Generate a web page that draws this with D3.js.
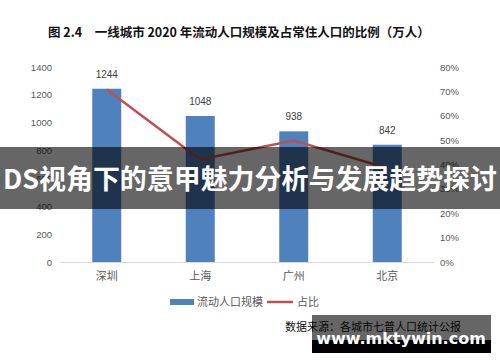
<!DOCTYPE html>
<html>
<head>
<meta charset="utf-8">
<script src="https://cdn.jsdelivr.net/npm/d3@7"></script>
<style>
  body { margin: 0; background: #fff; }
  svg { display: block; }
</style>
</head>
<body>
<div id="chart"></div>
<script>
// chart data
var cities = ["深圳", "上海", "广州", "北京"];
var floating = [1244, 1048, 938, 842];
var share = [0.708, 0.421, 0.498, 0.385];
var leftTicks = [0, 200, 400, 600, 800, 1000, 1200, 1400];
var rightTicks = [0, 0.1, 0.2, 0.3, 0.4, 0.5, 0.6, 0.7, 0.8];

var W = 500, H = 362;
var cjk = "'Noto Sans CJK SC', 'Noto Sans', sans-serif";

var svg = d3.select("#chart").append("svg")
	.attr("width", W)
	.attr("height", H);

svg.append("rect").attr("width", W).attr("height", H).attr("fill", "#fff");

// title
svg.append("text")
	.attr("x", 48)
	.attr("y", 37)
	.attr("font-family", cjk)
	.attr("font-size", 12.5)
	.attr("font-weight", "bold")
	.attr("fill", "#111")
	.text("图 2.4　一线城市 2020 年流动人口规模及占常住人口的比例（万人）");

var plot = { left: 60, right: 434, top: 67, bottom: 262 };

var x = d3.scaleBand().domain(cities).range([plot.left, plot.right]).paddingInner(0.69).paddingOuter(0.345);
var yL = d3.scaleLinear().domain([0, 1400]).range([plot.bottom, plot.top]);
var yR = d3.scaleLinear().domain([0, 0.8]).range([plot.bottom, plot.top]);

// axes
var axL = svg.append("g")
	.attr("transform", "translate(" + (plot.left - 8) + ",0)")
	.call(d3.axisLeft(yL).tickValues(leftTicks).tickSize(0).tickPadding(0).tickFormat(d3.format("d")));
var axR = svg.append("g")
	.attr("transform", "translate(" + (plot.right + 6) + ",0)")
	.call(d3.axisRight(yR).tickValues(rightTicks).tickSize(0).tickPadding(0).tickFormat(d3.format(".0%")));
[axL, axR].forEach(function (a) {
	a.select(".domain").remove();
	a.selectAll("text")
		.attr("font-family", "'Liberation Sans', Arial, sans-serif")
		.attr("font-size", 9.5)
		.attr("fill", "#595959");
});

var axB = svg.append("g")
	.attr("transform", "translate(0," + plot.bottom + ")")
	.call(d3.axisBottom(x).tickSize(0).tickPadding(10));
axB.select(".domain").attr("stroke", "#d9d9d9").attr("d", "M" + plot.left + ",0.5H" + plot.right);
axB.selectAll("text")
	.attr("font-family", cjk)
	.attr("font-size", 11)
	.attr("fill", "#595959");

// bars
svg.selectAll(".bar")
	.data(floating)
	.enter().append("rect")
	.attr("class", "bar")
	.attr("x", function (d, i) { return x(cities[i]); })
	.attr("y", function (d) { return yL(d); })
	.attr("width", x.bandwidth())
	.attr("height", function (d) { return plot.bottom - yL(d); })
	.attr("fill", "#4f81bd");

svg.selectAll(".blabel")
	.data(floating)
	.enter().append("text")
	.attr("x", function (d, i) { return x(cities[i]) + x.bandwidth() / 2; })
	.attr("y", function (d) { return yL(d) - 11; })
	.attr("text-anchor", "middle")
	.attr("font-family", "'Liberation Sans', Arial, sans-serif")
	.attr("font-size", 10)
	.attr("fill", "#404040")
	.text(function (d) { return d; });

// share line
var line = d3.line()
	.x(function (d, i) { return x(cities[i]) + x.bandwidth() / 2; })
	.y(function (d) { return yR(d); });
svg.append("path")
	.datum(share)
	.attr("d", line)
	.attr("fill", "none")
	.attr("stroke", "#c0504d")
	.attr("stroke-width", 2.5);

// legend
var lg = svg.append("g").attr("transform", "translate(0,302)");
lg.append("rect").attr("x", 170).attr("y", -3).attr("width", 24).attr("height", 6).attr("fill", "#4f81bd");
lg.append("text").attr("x", 197).attr("y", 4).attr("font-family", cjk).attr("font-size", 11).attr("fill", "#595959").text("流动人口规模");
lg.append("line").attr("x1", 267).attr("x2", 293).attr("y1", 0).attr("y2", 0).attr("stroke", "#c0504d").attr("stroke-width", 2.5);
lg.append("text").attr("x", 297).attr("y", 4).attr("font-family", cjk).attr("font-size", 11).attr("fill", "#595959").text("占比");

// source
svg.append("text")
	.attr("x", 285)
	.attr("y", 331)
	.attr("font-family", cjk)
	.attr("font-size", 11)
	.attr("fill", "#111")
	.text("数据来源：各城市七普人口统计公报");

// overlay band
svg.append("rect").attr("x", 0).attr("y", 147).attr("width", W).attr("height", 62).attr("fill", "rgba(0,0,0,0.6)");
svg.append("text")
	.attr("x", W / 2)
	.attr("y", 189)
	.attr("text-anchor", "middle")
	.attr("font-family", cjk)
	.attr("font-size", 27)
	.attr("font-weight", "bold")
	.attr("fill", "#fff")
	.attr("textLength", 494)
	.attr("lengthAdjust", "spacingAndGlyphs")
	.text("DS视角下的意甲魅力分析与发展趋势探讨");

// watermark
svg.append("rect").attr("x", 312).attr("y", 315).attr("width", 179).attr("height", 25).attr("fill", "rgba(0,0,0,0.6)");
svg.append("rect").attr("x", 312).attr("y", 340).attr("width", 179).attr("height", 13).attr("fill", "#000");
svg.append("text")
	.attr("x", 401)
	.attr("y", 344)
	.attr("text-anchor", "middle")
	.attr("font-family", "'DejaVu Sans', sans-serif")
	.attr("font-size", 16)
	.attr("font-weight", "bold")
	.attr("fill", "#fff")
	.text("www.mktywin.com");
</script>
</body>
</html>
